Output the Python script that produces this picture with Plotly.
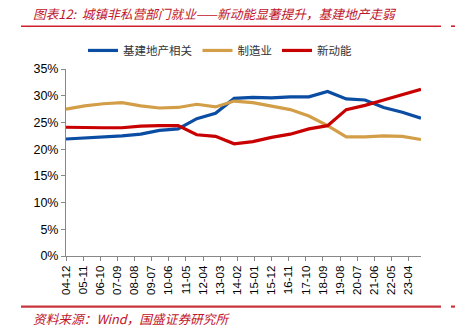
import plotly.graph_objects as go

years = [2004, 2005, 2006, 2007, 2008, 2009, 2010, 2011, 2012, 2013,
         2014, 2015, 2016, 2017, 2018, 2019, 2020, 2021, 2022, 2023]
infra_realestate = [21.9, 22.1, 22.2, 22.5, 22.8, 23.5, 23.8, 25.7, 26.7, 29.5,
                    29.7, 29.6, 29.8, 29.8, 30.8, 29.4, 29.2, 27.8, 26.9, 25.8]
manufacturing = [27.5, 28.1, 28.5, 28.7, 28.1, 27.7, 27.8, 28.4, 27.9, 29.0,
                 28.7, 28.1, 27.4, 26.2, 24.4, 22.3, 22.3, 22.5, 22.4, 21.8]
new_economy = [24.1, 24.0, 24.0, 24.0, 24.3, 24.4, 24.4, 22.7, 22.4, 21.0,
               21.4, 22.2, 22.8, 23.8, 24.4, 27.4, 28.2, 29.2, 30.2, 31.2]
series_names = ["基建地产相关", "制造业", "新动能"]
tick_labels = ["04-12", "05-11", "06-10", "07-09", "08-08", "09-07", "10-06",
               "11-05", "12-04", "13-03", "14-02", "15-01", "15-12", "16-11",
               "17-10", "18-09", "19-08", "20-07", "21-06", "22-05", "23-04"]
y_ticks = [0, 5, 10, 15, 20, 25, 30, 35]

title_text = "图表12:  城镇非私营部门就业——新动能显著提升，基建地产走弱"
source_text = "资料来源：Wind，国盛证券研究所"

x_dates = [f"{y}-12-01" for y in years]
tick_vals = [f"20{t[:2]}-{t[3:]}-01" for t in tick_labels]

colors = ["#0B4DA2", "#D39E48", "#C80000"]
fig = go.Figure()
for name, vals, c in zip(series_names, [infra_realestate, manufacturing, new_economy], colors):
    fig.add_trace(go.Scatter(x=x_dates, y=vals, mode="lines", name=name,
                             line=dict(color=c, width=3.2)))

W, H = 455, 334
L, R, T, B = 66, 421, 68.6, 256
pw, ph = R - L, B - T
def px(x): return (x - L) / pw
def py(y): return (B - y) / ph

cjk = "Noto Sans CJK SC"
fig.update_layout(
    width=W, height=H,
    margin=dict(l=L, r=W - R, t=T, b=H - B, pad=0),
    paper_bgcolor="white", plot_bgcolor="white",
    font=dict(family="Liberation Sans, Arial", size=12, color="#000"),
    showlegend=True,
    legend=dict(orientation="h", x=px(83), y=py(50), xanchor="left", yanchor="middle",
                font=dict(family=cjk, size=11.5, color="#333"),
                itemwidth=30, tracegroupgap=0, bgcolor="rgba(0,0,0,0)"),
    xaxis=dict(type="date", range=[x_dates[0], x_dates[-1]],
               tickmode="array", tickvals=tick_vals, ticktext=tick_labels,
               tickangle=-90, showgrid=False, zeroline=False,
               showline=True, linecolor="#888", linewidth=1,
               ticks="outside", ticklen=4, tickcolor="#888",
               tickfont=dict(family="Liberation Sans, Arial", size=11.5, color="#000")),
    yaxis=dict(range=[0, 35], tickmode="array", tickvals=y_ticks,
               ticktext=[f"{v}%" for v in y_ticks],
               showgrid=False, zeroline=False,
               showline=True, linecolor="#888", linewidth=1,
               ticks="outside", ticklen=4, tickcolor="#888",
               tickfont=dict(family="Liberation Sans, Arial", size=12.5, color="#000")),
)

fig.add_annotation(text=title_text, xref="paper", yref="paper",
                   x=px(31), y=py(13), xanchor="left", yanchor="middle", showarrow=False,
                   font=dict(family=cjk, size=12.7, color="#C0142A", style="italic"))
fig.add_annotation(text=source_text, xref="paper", yref="paper",
                   x=px(31), y=py(319), xanchor="left", yanchor="middle", showarrow=False,
                   font=dict(family=cjk, size=12.7, color="#C0142A", style="italic"))

fig.add_shape(type="line", xref="paper", yref="paper", x0=px(21), x1=px(441),
              y0=py(25.7), y1=py(25.7), line=dict(color="#D02030", width=1.6))
fig.add_shape(type="line", xref="paper", yref="paper", x0=px(451), x1=px(456),
              y0=py(25.7), y1=py(25.7), line=dict(color="#D02030", width=1.6))
fig.add_shape(type="line", xref="paper", yref="paper", x0=px(21), x1=px(441),
              y0=py(306.7), y1=py(306.7), line=dict(color="#C8363D", width=2.2))
fig.add_shape(type="line", xref="paper", yref="paper", x0=px(451), x1=px(456),
              y0=py(306.7), y1=py(306.7), line=dict(color="#C8363D", width=2.2))

fig.write_html("out.html")
